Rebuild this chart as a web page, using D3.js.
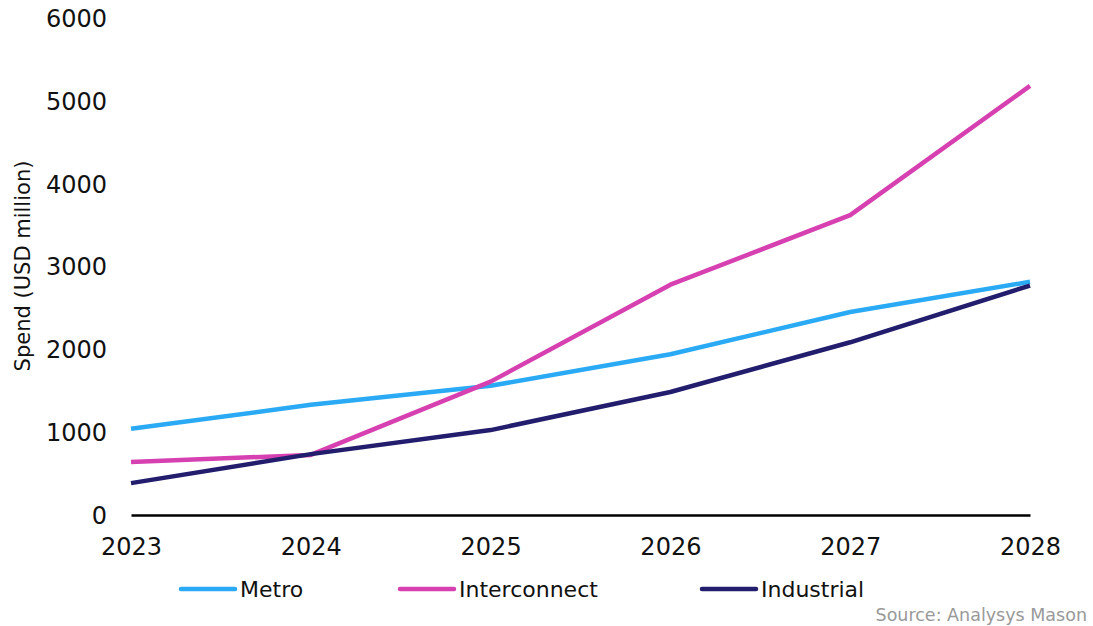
<!DOCTYPE html>
<html>
<head>
<meta charset="utf-8">
<script src="https://cdn.jsdelivr.net/npm/d3@7"></script>
<style>
  html, body { margin: 0; padding: 0; background: #ffffff; }
  svg { display: block; }
</style>
</head>
<body>
<svg id="chart" width="1093" height="626"></svg>
<script>
// ---- Data ----
const years = ["2023", "2024", "2025", "2026", "2027", "2028"];
const metro = [1040, 1330, 1560, 1940, 2450, 2815];
const interconnect = [640, 725, 1610, 2780, 3620, 5180];
const industrial = [385, 735, 1025, 1485, 2085, 2770];
const yTicks = [0, 1000, 2000, 3000, 4000, 5000, 6000];
const seriesNames = ["Metro", "Interconnect", "Industrial"];
const seriesColors = ["#2aaaf5", "#d640b0", "#221d6c"];
const yTitle = "Spend (USD million)";
const sourceText = "Source: Analysys Mason";

// ---- Layout ----
const svg = d3.select("#chart");
const font = "'DejaVu Sans', sans-serif";
const x = d3.scalePoint().domain(years).range([131, 1030]);
const y = d3.scaleLinear().domain([0, 6000]).range([515, 18]);

const series = [metro, interconnect, industrial].map((vals, i) => ({
  name: seriesNames[i], color: seriesColors[i],
  values: vals.map((v, j) => ({ year: years[j], value: v }))
}));

// y-axis labels
const yAxis = d3.axisLeft(y).tickValues(yTicks).tickSize(0).tickPadding(0).tickFormat(d3.format("d"));
const gy = svg.append("g").attr("transform", "translate(107,0)").call(yAxis);
gy.select(".domain").remove();
gy.selectAll("text").attr("font-family", font).attr("font-size", 24).attr("fill", "#111").attr("dy", "0.35em");

// x-axis
const xAxis = d3.axisBottom(x).tickSize(0).tickPadding(0);
const gx = svg.append("g").attr("transform", "translate(0,515)").call(xAxis);
gx.select(".domain").attr("stroke", "#000").attr("stroke-width", 2.5);
gx.selectAll("text").attr("font-family", font).attr("font-size", 24).attr("fill", "#111").attr("y", 40).attr("dy", 0);

// y title
svg.append("text")
  .attr("transform", "translate(30,266) rotate(-90)")
  .attr("text-anchor", "middle")
  .attr("font-family", font).attr("font-size", 21).attr("fill", "#111")
  .text(yTitle);

// lines
const line = d3.line().x(d => x(d.year)).y(d => y(d.value));
svg.append("g").selectAll("path").data(series).join("path")
  .attr("fill", "none")
  .attr("stroke", d => d.color)
  .attr("stroke-width", 4.5)
  .attr("stroke-linejoin", "round")
  .attr("d", d => line(d.values));

// legend
const legendX = [181, 400, 702];
const lg = svg.append("g").selectAll("g").data(series).join("g")
  .attr("transform", (d, i) => `translate(${legendX[i]},589)`);
lg.append("line").attr("x1", 0).attr("x2", 54).attr("y1", 0).attr("y2", 0)
  .attr("stroke", d => d.color).attr("stroke-width", 4.5).attr("stroke-linecap", "round");
lg.append("text").attr("x", 59).attr("y", 0).attr("dy", "0.35em")
  .attr("font-family", font).attr("font-size", 22).attr("fill", "#111")
  .text(d => d.name);

// source
svg.append("text")
  .attr("x", 1087).attr("y", 621)
  .attr("text-anchor", "end")
  .attr("font-family", font).attr("font-size", 17.5).attr("fill", "#999")
  .text(sourceText);
</script>
</body>
</html>
